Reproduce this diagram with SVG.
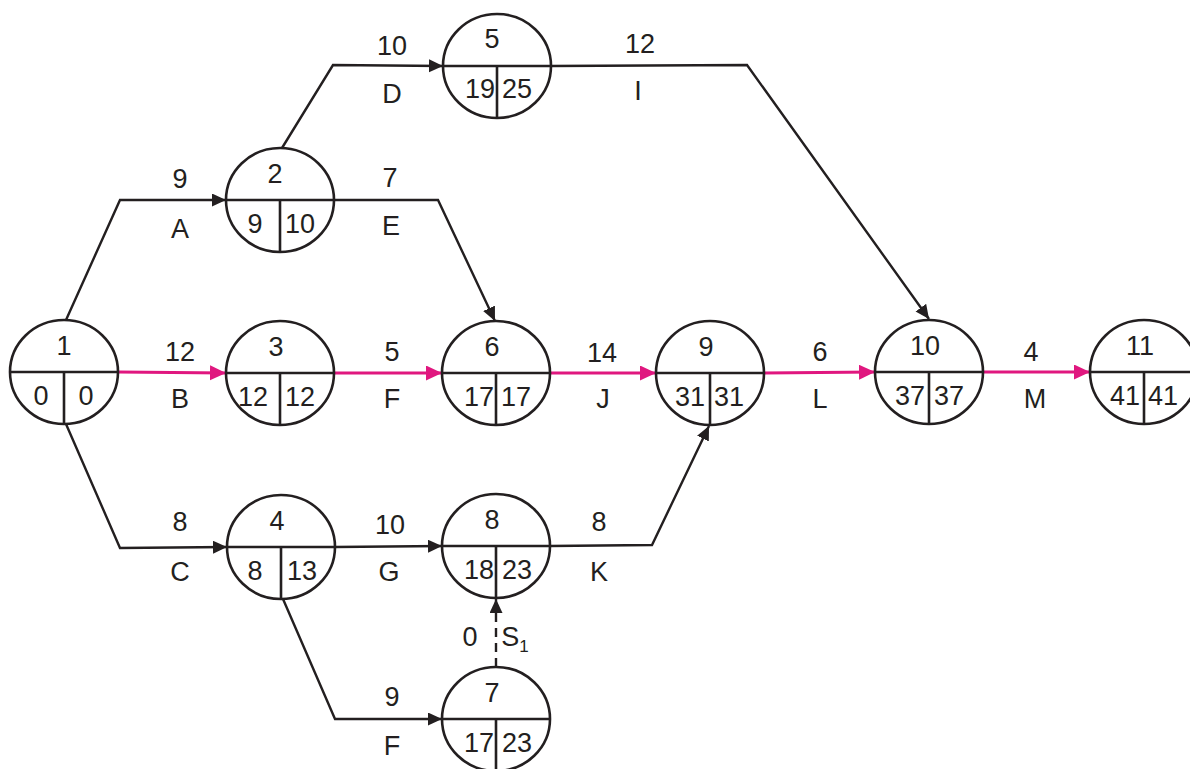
<svg xmlns="http://www.w3.org/2000/svg" width="1190" height="769" viewBox="0 0 1190 769">
<style>
.nd ellipse{fill:#fff;stroke:#231f20;stroke-width:2.6}
.nd line{stroke:#231f20;stroke-width:2.6}
text{font-family:"Liberation Sans",Arial,sans-serif;font-size:27px;fill:#231f20;text-anchor:middle}
.e{fill:none;stroke:#231f20;stroke-width:2.4}
.c{fill:none;stroke:#e0177f;stroke-width:3}
.d{fill:none;stroke:#231f20;stroke-width:2.4;stroke-dasharray:9 6}
</style>
<defs>
<marker id="ab" markerUnits="userSpaceOnUse" markerWidth="16" markerHeight="14" refX="14" refY="6.5" orient="auto"><path d="M0,0 L14,6.5 L0,13 z" fill="#231f20"/></marker>
<marker id="ap" markerUnits="userSpaceOnUse" markerWidth="18" markerHeight="16" refX="16" refY="7.5" orient="auto"><path d="M0,0 L16,7.5 L0,15 z" fill="#e0177f"/></marker>
</defs>
<rect width="1190" height="769" fill="#fff"/>
<g id="connectors">
<path class="e" d="M66 320 L120 200 L226 200" marker-end="url(#ab)"/>
<path class="c" d="M118 372 L226 373" marker-end="url(#ap)"/>
<path class="e" d="M66 424 L120 548 L227 547" marker-end="url(#ab)"/>
<path class="e" d="M282 148 L333 65 L443 66" marker-end="url(#ab)"/>
<path class="e" d="M334 200 L438 200 L495 321" marker-end="url(#ab)"/>
<path class="c" d="M334 373 L442 373" marker-end="url(#ap)"/>
<path class="e" d="M335 547 L442 546" marker-end="url(#ab)"/>
<path class="e" d="M283 599 L335 719 L442 719" marker-end="url(#ab)"/>
<path class="e" d="M551 66 L747 65 L929 319" marker-end="url(#ab)"/>
<path class="c" d="M550 373 L656 373" marker-end="url(#ap)"/>
<path class="e" d="M550 546 L652 545 L709 426" marker-end="url(#ab)"/>
<path class="c" d="M764 373 L875 372" marker-end="url(#ap)"/>
<path class="c" d="M983 372 L1090 372" marker-end="url(#ap)"/>
<path class="d" d="M496 667 L496 599" marker-end="url(#ab)"/>
</g>
<g id="labels">
<text x="180" y="188">9</text><text x="180" y="238">A</text>
<text x="180" y="361">12</text><text x="180" y="408">B</text>
<text x="180" y="531">8</text><text x="180" y="581">C</text>
<text x="392" y="55">10</text><text x="392" y="103">D</text>
<text x="390" y="187">7</text><text x="391" y="235">E</text>
<text x="392" y="361">5</text><text x="392" y="408">F</text>
<text x="390" y="534">10</text><text x="389" y="581">G</text>
<text x="392" y="706">9</text><text x="392" y="755">F</text>
<text x="640" y="53">12</text><text x="638" y="100">I</text>
<text x="602" y="362">14</text><text x="603" y="408">J</text>
<text x="599" y="531">8</text><text x="599" y="581">K</text>
<text x="820" y="361">6</text><text x="820" y="408">L</text>
<text x="1031" y="361">4</text><text x="1035" y="408">M</text>
<text x="470" y="646">0</text>
<text x="515" y="646">S<tspan font-size="17" dy="6">1</tspan></text>
</g>
<g id="n1" class="nd"><ellipse cx="64" cy="372" rx="54" ry="52"/><line x1="10" y1="372" x2="118" y2="372"/><line x1="64" y1="372" x2="64" y2="424"/><text x="64" y="355">1</text><text x="41" y="405">0</text><text x="86" y="405">0</text></g>
<g id="n2" class="nd"><ellipse cx="280" cy="200" rx="54" ry="52"/><line x1="226" y1="200" x2="334" y2="200"/><line x1="280" y1="200" x2="280" y2="252"/><text x="275" y="183">2</text><text x="255" y="233">9</text><text x="300" y="233">10</text></g>
<g id="n3" class="nd"><ellipse cx="280" cy="373" rx="54" ry="52"/><line x1="226" y1="373" x2="334" y2="373"/><line x1="280" y1="373" x2="280" y2="425"/><text x="276" y="356">3</text><text x="253" y="406">12</text><text x="300" y="406">12</text></g>
<g id="n4" class="nd"><ellipse cx="281" cy="547" rx="54" ry="52"/><line x1="227" y1="547" x2="335" y2="547"/><line x1="281" y1="547" x2="281" y2="599"/><text x="277" y="530">4</text><text x="255" y="580">8</text><text x="302" y="580">13</text></g>
<g id="n5" class="nd"><ellipse cx="497" cy="66" rx="54" ry="52"/><line x1="443" y1="66" x2="551" y2="66"/><line x1="497" y1="66" x2="497" y2="118"/><text x="492" y="48">5</text><text x="480" y="98">19</text><text x="517" y="98">25</text></g>
<g id="n6" class="nd"><ellipse cx="496" cy="373" rx="54" ry="52"/><line x1="442" y1="373" x2="550" y2="373"/><line x1="496" y1="373" x2="496" y2="425"/><text x="492" y="356">6</text><text x="479" y="406">17</text><text x="516" y="406">17</text></g>
<g id="n7" class="nd"><ellipse cx="496" cy="719" rx="54" ry="52"/><line x1="442" y1="719" x2="550" y2="719"/><line x1="496" y1="719" x2="496" y2="771"/><text x="492" y="702">7</text><text x="479" y="752">17</text><text x="517" y="752">23</text></g>
<g id="n8" class="nd"><ellipse cx="496" cy="546" rx="54" ry="52"/><line x1="442" y1="546" x2="550" y2="546"/><line x1="496" y1="546" x2="496" y2="598"/><text x="492" y="529">8</text><text x="479" y="579">18</text><text x="517" y="579">23</text></g>
<g id="n9" class="nd"><ellipse cx="710" cy="373" rx="54" ry="52"/><line x1="656" y1="373" x2="764" y2="373"/><line x1="710" y1="373" x2="710" y2="425"/><text x="706" y="356">9</text><text x="690" y="406">31</text><text x="729" y="406">31</text></g>
<g id="n10" class="nd"><ellipse cx="929" cy="372" rx="54" ry="52"/><line x1="875" y1="372" x2="983" y2="372"/><line x1="929" y1="372" x2="929" y2="424"/><text x="925" y="355">10</text><text x="910" y="405">37</text><text x="949" y="405">37</text></g>
<g id="n11" class="nd"><ellipse cx="1144" cy="372" rx="54" ry="52"/><line x1="1090" y1="372" x2="1198" y2="372"/><line x1="1144" y1="372" x2="1144" y2="424"/><text x="1140" y="355">11</text><text x="1125" y="405">41</text><text x="1163" y="405">41</text></g>
</svg>
